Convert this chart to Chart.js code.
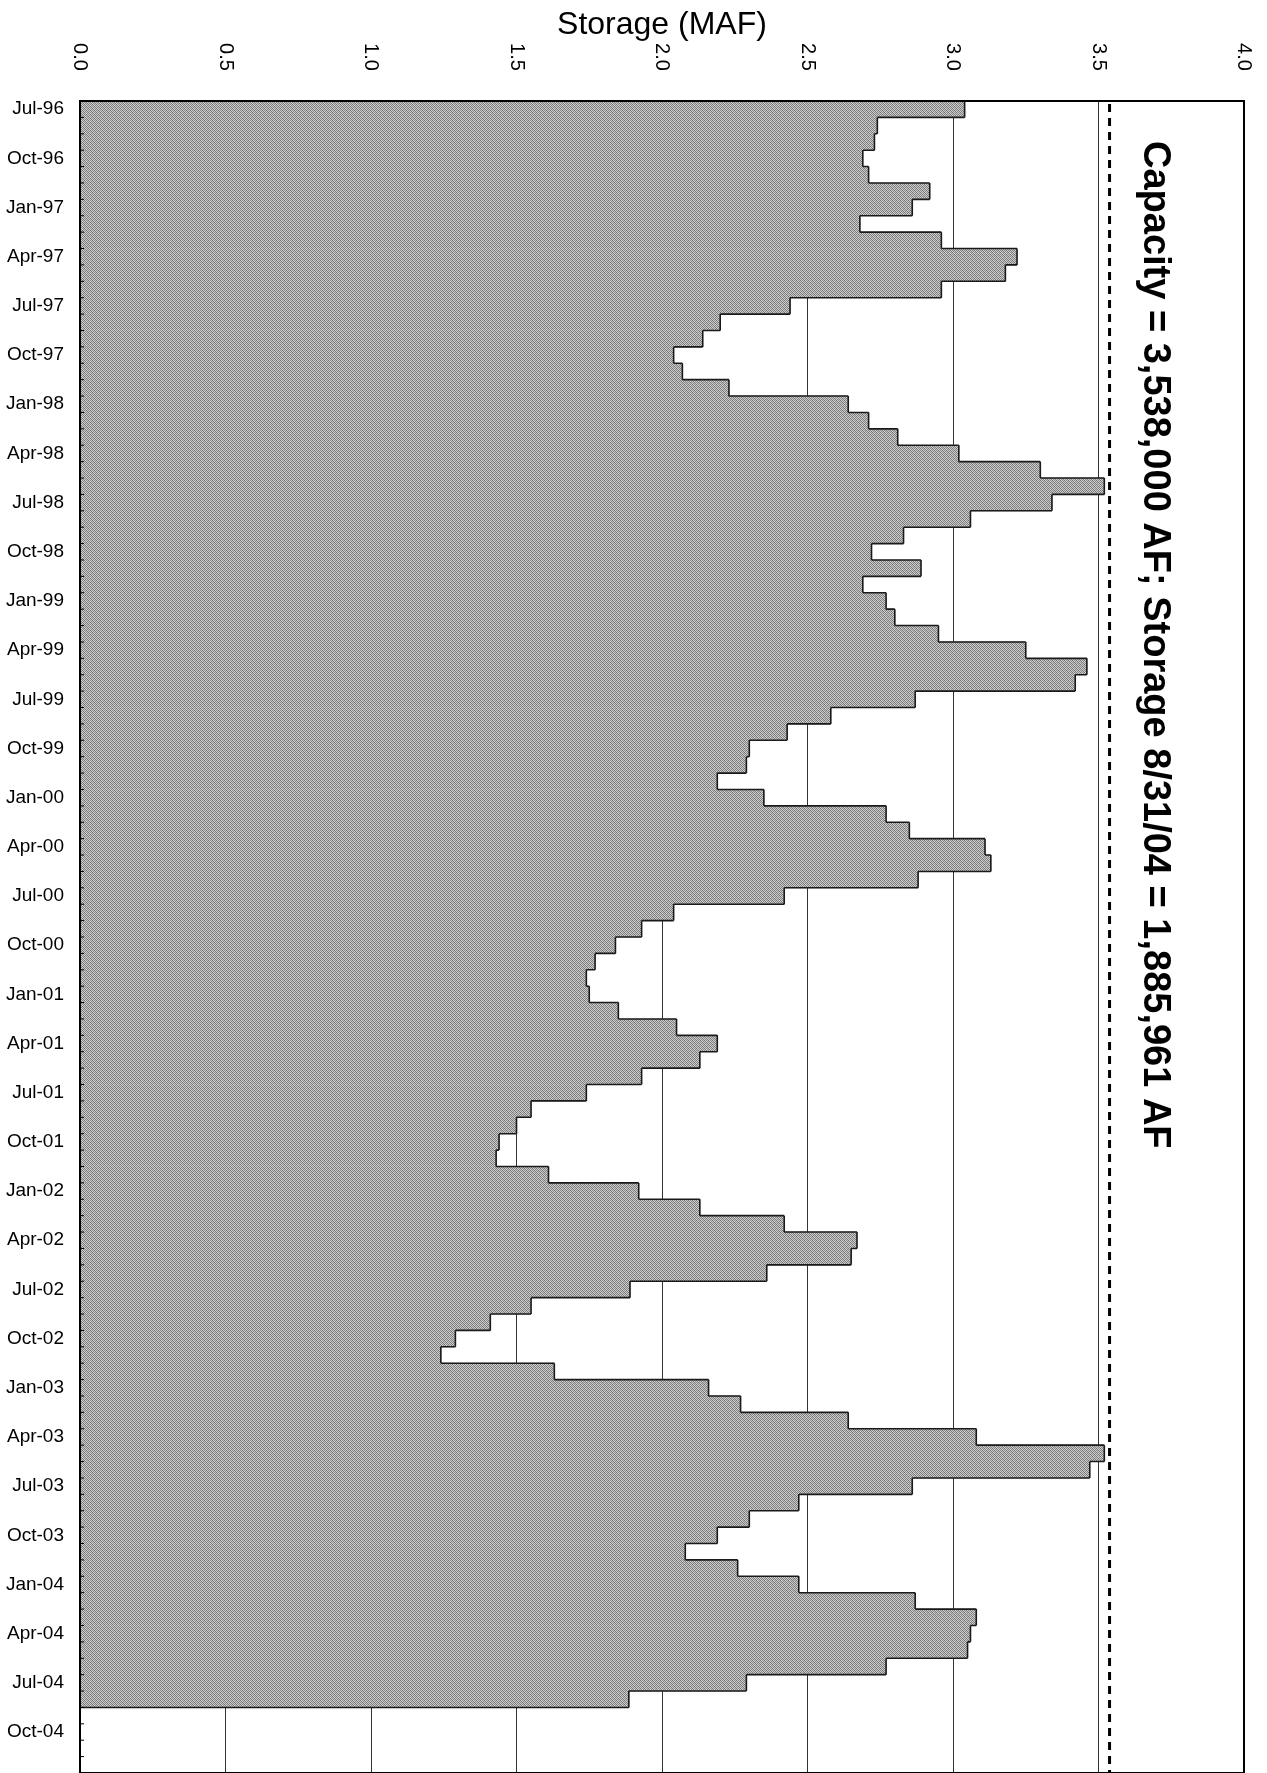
<!DOCTYPE html>
<html><head><meta charset="utf-8">
<script src="https://cdn.jsdelivr.net/npm/chart.js@4.4.1/dist/chart.umd.min.js"></script>
<style>html,body{margin:0;padding:0;background:#fff;overflow:hidden}canvas{display:block}</style>
</head><body>
<canvas id="c" width="1267" height="1773"></canvas>
<script>
const months = [
 'Jul-96','Aug-96','Sep-96','Oct-96','Nov-96','Dec-96',
 'Jan-97','Feb-97','Mar-97','Apr-97','May-97','Jun-97','Jul-97','Aug-97','Sep-97','Oct-97','Nov-97','Dec-97',
 'Jan-98','Feb-98','Mar-98','Apr-98','May-98','Jun-98','Jul-98','Aug-98','Sep-98','Oct-98','Nov-98','Dec-98',
 'Jan-99','Feb-99','Mar-99','Apr-99','May-99','Jun-99','Jul-99','Aug-99','Sep-99','Oct-99','Nov-99','Dec-99',
 'Jan-00','Feb-00','Mar-00','Apr-00','May-00','Jun-00','Jul-00','Aug-00','Sep-00','Oct-00','Nov-00','Dec-00',
 'Jan-01','Feb-01','Mar-01','Apr-01','May-01','Jun-01','Jul-01','Aug-01','Sep-01','Oct-01','Nov-01','Dec-01',
 'Jan-02','Feb-02','Mar-02','Apr-02','May-02','Jun-02','Jul-02','Aug-02','Sep-02','Oct-02','Nov-02','Dec-02',
 'Jan-03','Feb-03','Mar-03','Apr-03','May-03','Jun-03','Jul-03','Aug-03','Sep-03','Oct-03','Nov-03','Dec-03',
 'Jan-04','Feb-04','Mar-04','Apr-04','May-04','Jun-04','Jul-04','Aug-04','Sep-04','Oct-04','Nov-04','Dec-04'
];
const storageMAF = [
 3.04,2.74,2.73,2.69,2.71,2.92,
 2.86,2.68,2.96,3.22,3.18,2.96,2.44,2.20,2.14,2.04,2.07,2.23,
 2.64,2.71,2.81,3.02,3.30,3.52,3.34,3.06,2.83,2.72,2.89,2.69,
 2.77,2.80,2.95,3.25,3.46,3.42,2.87,2.58,2.43,2.30,2.29,2.19,
 2.35,2.77,2.85,3.11,3.13,2.88,2.42,2.04,1.93,1.84,1.77,1.74,
 1.75,1.85,2.05,2.19,2.13,1.93,1.74,1.55,1.50,1.44,1.43,1.61,
 1.92,2.13,2.42,2.67,2.65,2.36,1.89,1.55,1.41,1.29,1.24,1.63,
 2.16,2.27,2.64,3.08,3.52,3.47,2.86,2.47,2.30,2.19,2.08,2.26,
 2.47,2.87,3.08,3.06,3.05,2.77,2.29,1.886
];
const capacityMAF = 3.538;
const xTickValues = [0,0.5,1,1.5,2,2.5,3,3.5,4];
const xTickLabels = ['0.0','0.5','1.0','1.5','2.0','2.5','3.0','3.5','4.0'];
const axisTitle = 'Storage (MAF)';
const noteText = 'Capacity = 3,538,000 AF; Storage 8/31/04 = 1,885,961 AF';
const FAM = '"Liberation Sans", Arial, Helvetica, sans-serif';

const canvas = document.getElementById('c');
const ctx = canvas.getContext('2d');

function makePattern(){
  const p = document.createElement('canvas'); p.width = 4; p.height = 4;
  const g = p.getContext('2d');
  const cols = [
    ['#707070','#d2d2d2','#8a8a8a','#c4c4c4'],
    ['#c8c8c8','#7c7c7c','#d8d8d8','#848484'],
    ['#8c8c8c','#c0c0c0','#747474','#cccccc'],
    ['#d0d0d0','#868686','#c6c6c6','#7a7a7a']
  ];
  for (let r=0;r<4;r++) for (let c=0;c<4;c++){ g.fillStyle = cols[r][c]; g.fillRect(c,r,1,1); }
  return ctx.createPattern(p,'repeat');
}

const decor = {
  id:'decor',
  afterDatasetsDraw(chart){
    const {ctx, chartArea:a, scales:{x,y}} = chart;
    const bars = chart.getDatasetMeta(0).data;
    ctx.save();
    // stepped outline of the bars
    ctx.strokeStyle = '#1a1a1a'; ctx.lineWidth = 1.6;
    ctx.beginPath();
    for (let i=0;i<bars.length;i++){
      if (storageMAF[i]==null) continue;
      const b = bars[i];
      const top = b.y - b.height/2, bot = b.y + b.height/2;
      ctx.moveTo(b.x, top); ctx.lineTo(b.x, bot);
      const nb = bars[i+1];
      const nx = (nb && storageMAF[i+1]!=null) ? nb.x : b.base;
      ctx.moveTo(Math.min(b.x,nx), bot); ctx.lineTo(Math.max(b.x,nx), bot);
    }
    ctx.stroke();
    // capacity dashed line
    const cx = x.getPixelForValue(capacityMAF);
    ctx.setLineDash([8,6]); ctx.lineWidth = 3; ctx.strokeStyle = '#000';
    ctx.beginPath(); ctx.moveTo(cx, a.top+3); ctx.lineTo(cx, a.bottom); ctx.stroke();
    ctx.setLineDash([]);
    // minor ticks on category axis
    ctx.lineWidth = 1; ctx.strokeStyle = '#000';
    ctx.beginPath();
    for (let i=1;i<months.length;i++){
      const yy = (y.getPixelForValue(i-1)+y.getPixelForValue(i))/2;
      ctx.moveTo(a.left, yy); ctx.lineTo(a.left+4, yy);
    }
    ctx.stroke();
    // plot border
    ctx.lineWidth = 2;
    ctx.strokeRect(a.left, a.top, a.right-a.left, a.bottom-a.top);
    // rotated value-axis tick labels
    ctx.fillStyle = '#000';
    ctx.font = '20px ' + FAM;
    ctx.textAlign = 'center'; ctx.textBaseline = 'middle';
    xTickValues.forEach((v,i)=>{
      const px = x.getPixelForValue(v);
      ctx.save(); ctx.translate(px, 57); ctx.rotate(Math.PI/2);
      ctx.fillText(xTickLabels[i], 0, 0); ctx.restore();
    });
    // note text
    ctx.font = 'bold 38px ' + FAM;
    ctx.textAlign = 'left';
    ctx.save(); ctx.translate(1154, 141); ctx.rotate(Math.PI/2);
    ctx.fillText(noteText, 0, 0); ctx.restore();
    ctx.restore();
  }
};

new Chart(ctx, {
  type:'bar',
  data:{labels:months, datasets:[{data:storageMAF, backgroundColor:makePattern(), borderWidth:0, barPercentage:1, categoryPercentage:1}]},
  options:{
    indexAxis:'y', responsive:false, animation:false, devicePixelRatio:1,
    layout:{padding:{left:0,right:23,top:0,bottom:0}},
    plugins:{legend:{display:false}, tooltip:{enabled:false}},
    scales:{
      x:{position:'top', min:0, max:4,
         ticks:{display:false, stepSize:0.5},
         grid:{color:'#333', lineWidth:1, drawTicks:false},
         border:{display:false},
         title:{display:true, text:axisTitle, color:'#000', font:{size:32, family:FAM}, padding:{top:6,bottom:0}},
         afterFit(s){ s.height = 101; s.paddingLeft = 0; s.paddingRight = 0; }},
      y:{ticks:{autoSkip:false, callback:(v,i)=> i%3===0 ? months[i] : '', font:{size:19, family:FAM}, color:'#000', padding:16},
         grid:{display:false, drawTicks:false},
         border:{display:true, color:'#000', width:1},
         afterFit(s){ s.width = 80; s.paddingTop = 0; s.paddingBottom = 0; }}
    }
  },
  plugins:[decor]
});
</script>
</body></html>
